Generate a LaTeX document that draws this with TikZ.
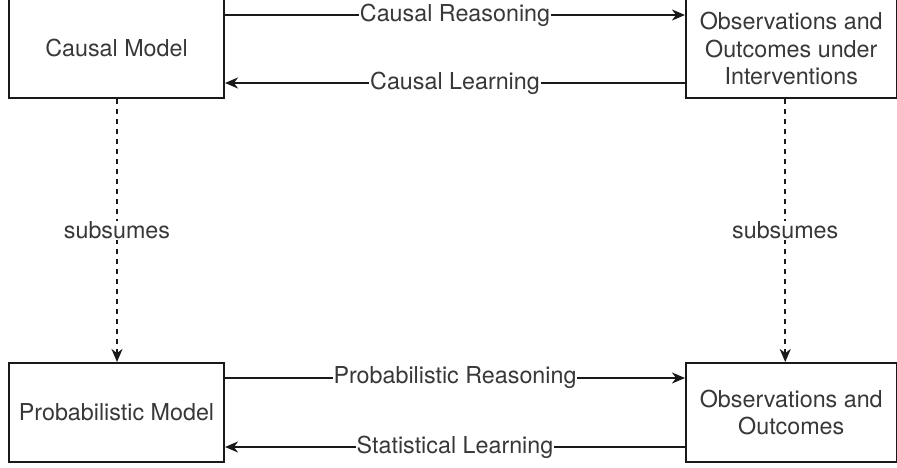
\documentclass[tikz,border=0pt]{standalone}
\usepackage{fontspec}
\setmainfont{TeX Gyre Heros}
\usetikzlibrary{arrows.meta}
\begin{document}
\begin{tikzpicture}[x=1pt,y=-1pt,
  box/.style={draw=black!90, line width=2pt, text=black!78, align=center,
    font=\fontsize{23.3}{27.5}\selectfont, inner sep=0pt},
  conn/.style={line width=2pt, draw=black!90,
    -{Stealth[length=13pt,width=11pt,inset=4pt]}},
  lbl/.style={fill=white, text=black!78, font=\fontsize{23.3}{27.5}\selectfont,
    inner sep=1pt},
  dconn/.style={conn, dash pattern=on 5pt off 5pt}]
\useasboundingbox (0,0) rectangle (897,467);
\node[box, minimum width=215pt, minimum height=99pt] (cm) at (116.5,48.5) {Causal Model};
\node[box, minimum width=210.5pt, minimum height=99pt] (oi) at (791.25,48.5)
  {Observations and\\Outcomes under\\Interventions};
\node[box, minimum width=215pt, minimum height=99pt] (pm) at (116.5,412.5) {Probabilistic Model};
\node[box, minimum width=210.5pt, minimum height=99pt] (oo) at (791.25,412.5)
  {Observations and\\Outcomes};

\draw[conn] ([yshift=-17pt]cm.north east) -- ([yshift=-17pt]oi.north west)
  node[midway,lbl] {Causal Reasoning};
\draw[conn] ([yshift=16pt]oi.south west) -- ([yshift=16pt]cm.south east)
  node[midway,lbl] {Causal Learning};
\draw[conn] ([yshift=-16pt]pm.north east) -- ([yshift=-16pt]oo.north west)
  node[midway,lbl] {Probabilistic Reasoning};
\draw[conn] ([yshift=16pt]oo.south west) -- ([yshift=16pt]pm.south east)
  node[midway,lbl] {Statistical Learning};

\draw[dconn] ([xshift=0.5pt]cm.south) -- ([xshift=0.5pt]pm.north)
  node[midway,lbl] {subsumes};
\draw[dconn] ([xshift=-6pt]oi.south) -- ([xshift=-6pt]oo.north)
  node[midway,lbl] {subsumes};
\end{tikzpicture}
\end{document}
